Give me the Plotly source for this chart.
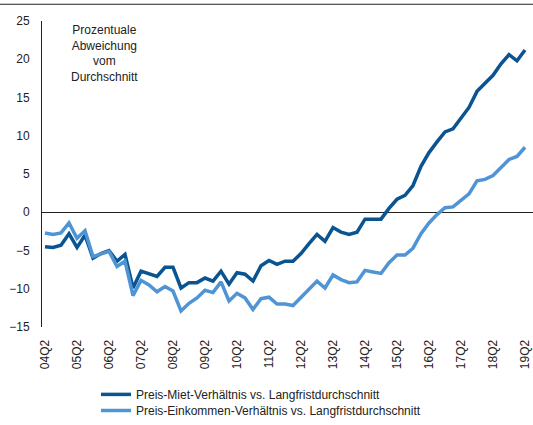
import plotly.graph_objects as go

# Quartale 04Q2 .. 19Q2
quartale = [f"{(4 + (i + 1) // 4):02d}Q{(i + 1) % 4 + 1}" for i in range(61)]
tick_labels = [f"{j:02d}Q2" for j in range(4, 20)]

preis_miete = [
    -4.5, -4.6, -4.3, -2.8, -4.6, -3.0, -6.0, -5.4, -5.0, -6.4,
    -5.5, -9.9, -7.7, -8.0, -8.4, -7.2, -7.2, -9.9, -9.2, -9.2,
    -8.6, -9.0, -7.7, -9.4, -7.9, -8.1, -9.0, -7.0, -6.3, -6.8,
    -6.4, -6.4, -5.4, -4.1, -2.9, -3.8, -2.0, -2.6, -2.9, -2.6,
    -0.9, -0.9, -0.9, 0.5, 1.7, 2.2, 3.5, 6.0, 7.8, 9.2,
    10.5, 10.9, 12.3, 13.7, 15.8, 16.8, 17.9, 19.4, 20.6, 19.8,
    21.2,
]

preis_einkommen = [
    -2.7, -2.9, -2.7, -1.4, -3.4, -2.4, -5.8, -5.4, -5.1, -7.1,
    -6.4, -10.9, -8.9, -9.5, -10.4, -9.7, -10.3, -12.9, -11.9, -11.2,
    -10.2, -10.5, -9.1, -11.6, -10.6, -11.2, -12.7, -11.3, -11.1, -12.0,
    -12.0, -12.2, -11.1, -10.1, -9.0, -9.9, -8.2, -8.8, -9.2, -9.1,
    -7.6, -7.8, -8.0, -6.6, -5.6, -5.6, -4.7, -2.8, -1.4, -0.3,
    0.6, 0.7, 1.6, 2.4, 4.1, 4.3, 4.8, 5.8, 6.9, 7.3,
    8.5,
]

x = list(range(len(quartale)))

fig = go.Figure()
fig.add_trace(go.Scatter(
    x=x, y=preis_miete, mode='lines',
    name='Preis-Miet-Verhältnis vs. Langfristdurchschnitt',
    line=dict(color='#0a5491', width=3.5),
    legend='legend', showlegend=True,
))
fig.add_trace(go.Scatter(
    x=x, y=preis_einkommen, mode='lines',
    name='Preis-Einkommen-Verhältnis vs. Langfristdurchschnitt',
    line=dict(color='#4f94d4', width=3.5),
    legend='legend2', showlegend=True,
))

legende = dict(
    orientation='v', x=0.11, xanchor='left', yanchor='middle',
    font=dict(size=12), itemwidth=30, bgcolor='rgba(0,0,0,0)',
)

fig.update_layout(
    width=533, height=425,
    showlegend=True,
    margin=dict(l=42, r=0, t=21, b=93),
    paper_bgcolor='white', plot_bgcolor='white',
    font=dict(family='Liberation Sans, Arial, sans-serif', size=12, color='#222222'),
    legend=dict(legende, y=(332 - 400.5) / 311),
    legend2=dict(legende, y=(332 - 417.5) / 311),
    annotations=[dict(
        text='Prozentuale<br>Abweichung<br>vom<br>Durchschnitt',
        xref='paper', yref='paper', x=0.128, y=1.0,
        xanchor='center', yanchor='top', showarrow=False,
        font=dict(size=12, color='#222222'),
    )],
    shapes=[dict(
        type='line', xref='paper', yref='paper',
        x0=-0.09, x1=1.0, y0=1.0547, y1=1.0547,
        line=dict(color='#222222', width=1),
    )],
)

fig.update_xaxes(
    range=[-0.375, 61.0],
    tickmode='array',
    tickvals=[quartale.index(t) for t in tick_labels],
    ticktext=tick_labels,
    tickangle=-90,
    showgrid=False, showline=False, zeroline=False,
    ticks='outside', ticklen=7, tickcolor='rgba(0,0,0,0)',
    automargin=False,
)
fig.update_yaxes(
    range=[-15, 25], dtick=5,
    showgrid=False,
    showline=True, linecolor='#222222', linewidth=1,
    zeroline=True, zerolinecolor='#222222', zerolinewidth=1,
    ticks='outside', ticklen=9, tickcolor='rgba(0,0,0,0)',
    automargin=False,
)

# Seitenrand des Browsers entfernen, damit die Grafik bei (0,0) beginnt
fig.write_html(
    "out.html",
    config={'displayModeBar': False},
    post_script="document.body.style.margin='0';",
)
